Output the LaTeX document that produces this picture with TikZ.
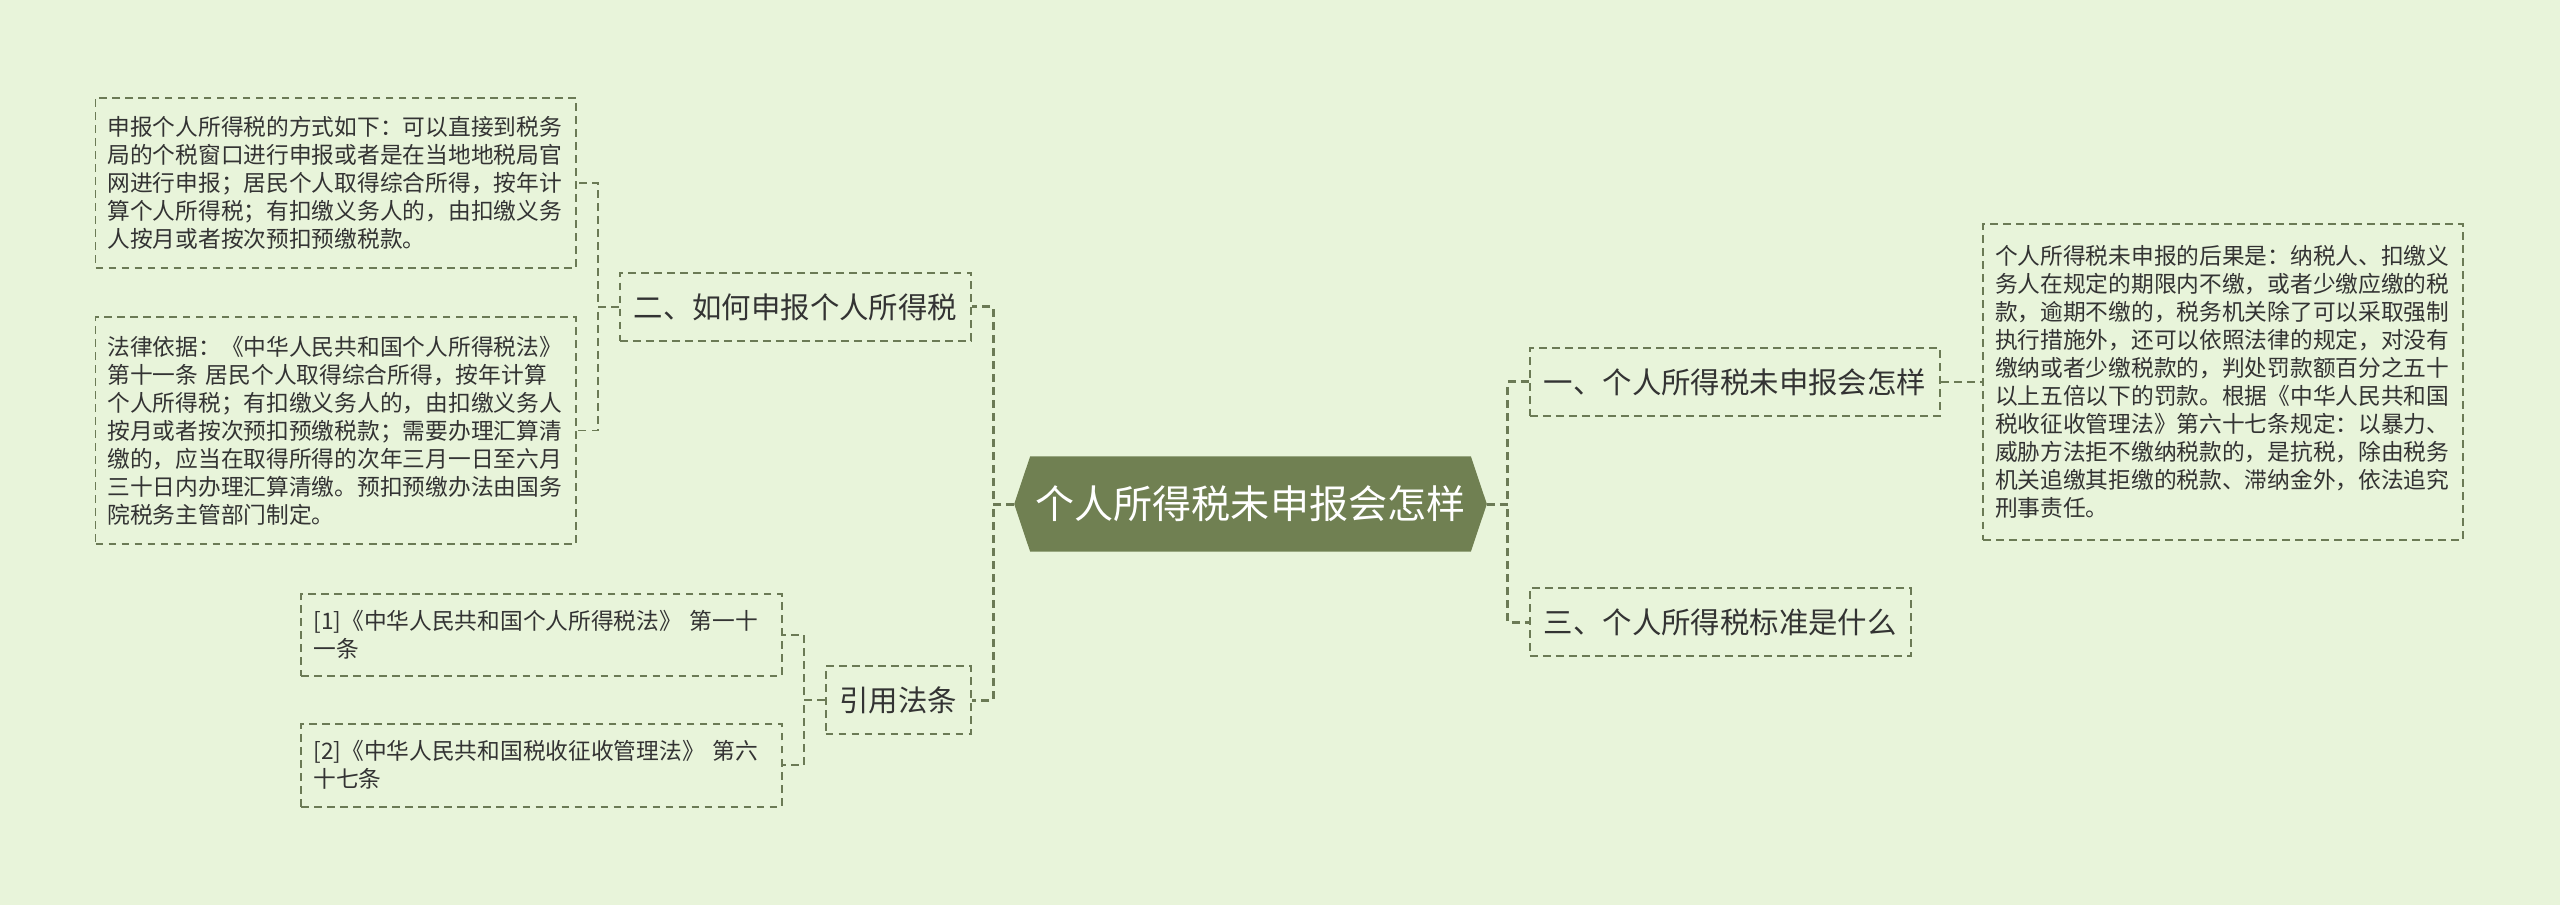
\documentclass[tikz,border=0pt]{standalone}
\usepackage{fontspec}
\setmainfont{Noto Sans CJK SC}
\usetikzlibrary{positioning,backgrounds}
\definecolor{bg}{HTML}{E8F4DA}
\definecolor{olive}{HTML}{708052}
\definecolor{dashc}{HTML}{6B7A55}
\definecolor{ink}{HTML}{333333}
\tikzset{
  rootbox/.style={
    rectangle, draw=none, text=white,
    font=\fontsize{11.1pt}{13pt}\selectfont,
    minimum width=47.1mm, minimum height=9.4mm, inner sep=0pt
  },
  branch/.style={
    rectangle, draw=dashc, dash pattern=on 2.2pt off 1.5pt,
    line width=0.55pt, text=ink,
    font=\fontsize{8.36pt}{10pt}\selectfont,
    inner xsep=1.4mm, inner ysep=0.5mm, minimum height=6.8mm
  },
  leaf/.style={
    branch, font=\fontsize{6.46pt}{7.95pt}\selectfont, align=left,
    text width=45.6mm, inner xsep=1.2mm, minimum width=48mm
  },
  conn/.style={draw=dashc, line width=0.55pt, dash pattern=on 2.2pt off 1.5pt},
  trunk/.style={conn, line width=0.85pt}
}

\begin{document}
\begin{tikzpicture}[x=0.01cm, y=-0.01cm]

\useasboundingbox (0,0) rectangle (2560,905);
\begin{scope}[on background layer]
  \fill[bg] (0,0) rectangle (2560,905);
\end{scope}

% centre
\node[rootbox] (root) at (1250.5,504) {个人所得税未申报会怎样};
\begin{scope}[on background layer]
  \fill[olive] ([xshift=1.6mm]root.north west) -- ([xshift=-1.6mm]root.north east)
    -- (root.east) -- ([xshift=-1.6mm]root.south east)
    -- ([xshift=1.6mm]root.south west) -- (root.west) -- cycle;
\end{scope}

% left side
\node[branch, left=4.2mm of root, yshift=19.7mm] (how) {二、如何申报个人所得税};
\node[branch, left=4.2mm of root, yshift=-19.6mm] (laws) {引用法条};

\node[leaf, minimum height=17mm, left=4.2mm of how, yshift=12.4mm] (way)
  {申报个人所得税的方式如下：可以直接到税务\\
   局的个税窗口进行申报或者是在当地地税局官\\
   网进行申报；居民个人取得综合所得，按年计\\
   算个人所得税；有扣缴义务人的，由扣缴义务\\
   人按月或者按次预扣预缴税款。};

\node[leaf, minimum height=22.7mm, left=4.2mm of how, yshift=-12.35mm] (basis)
  {法律依据：《中华人民共和国个人所得税法》\\
   第十一条 居民个人取得综合所得，按年计算\\
   个人所得税；有扣缴义务人的，由扣缴义务人\\
   按月或者按次预扣预缴税款；需要办理汇算清\\
   缴的，应当在取得所得的次年三月一日至六月\\
   三十日内办理汇算清缴。预扣预缴办法由国务\\
   院税务主管部门制定。};

\node[leaf, minimum height=8.2mm, left=4.2mm of laws, yshift=6.5mm] (ref1)
  {[1]《中华人民共和国个人所得税法》~第一十\\
   一条};
\node[leaf, minimum height=8.3mm, left=4.2mm of laws, yshift=-6.5mm] (ref2)
  {[2]《中华人民共和国税收征收管理法》~第六\\
   十七条};

% right side
\node[branch, right=4.2mm of root, yshift=12.2mm] (what) {一、个人所得税未申报会怎样};
\node[branch, right=4.2mm of root, yshift=-11.8mm] (rate) {三、个人所得税标准是什么};

\node[leaf, minimum height=31.6mm, right=4.1mm of what] (result)
  {个人所得税未申报的后果是：纳税人、扣缴义\\
   务人在规定的期限内不缴，或者少缴应缴的税\\
   款，逾期不缴的，税务机关除了可以采取强制\\
   执行措施外，还可以依照法律的规定，对没有\\
   缴纳或者少缴税款的，判处罚款额百分之五十\\
   以上五倍以下的罚款。根据《中华人民共和国\\
   税收征收管理法》第六十七条规定：以暴力、\\
   威胁方法拒不缴纳税款的，是抗税，除由税务\\
   机关追缴其拒缴的税款、滞纳金外，依法追究\\
   刑事责任。};

% connectors
\draw[trunk] (root.west) -- ++(-2.1mm,0) |- (how.east);
\draw[trunk] (root.west) -- ++(-2.1mm,0) |- (laws.east);
\draw[trunk] (root.east) -- ++(2.1mm,0) |- (what.west);
\draw[trunk] (root.east) -- ++(2.1mm,0) |- (rate.west);

\draw[conn] (how.west) -- ++(-2.1mm,0) |- (way.east);
\draw[conn] (how.west) -- ++(-2.1mm,0) |- (basis.east);
\draw[conn] (laws.west) -- ++(-2.1mm,0) |- (ref1.east);
\draw[conn] (laws.west) -- ++(-2.1mm,0) |- (ref2.east);
\draw[conn] (what.east) -- (result.west);

\end{tikzpicture}
\end{document}
